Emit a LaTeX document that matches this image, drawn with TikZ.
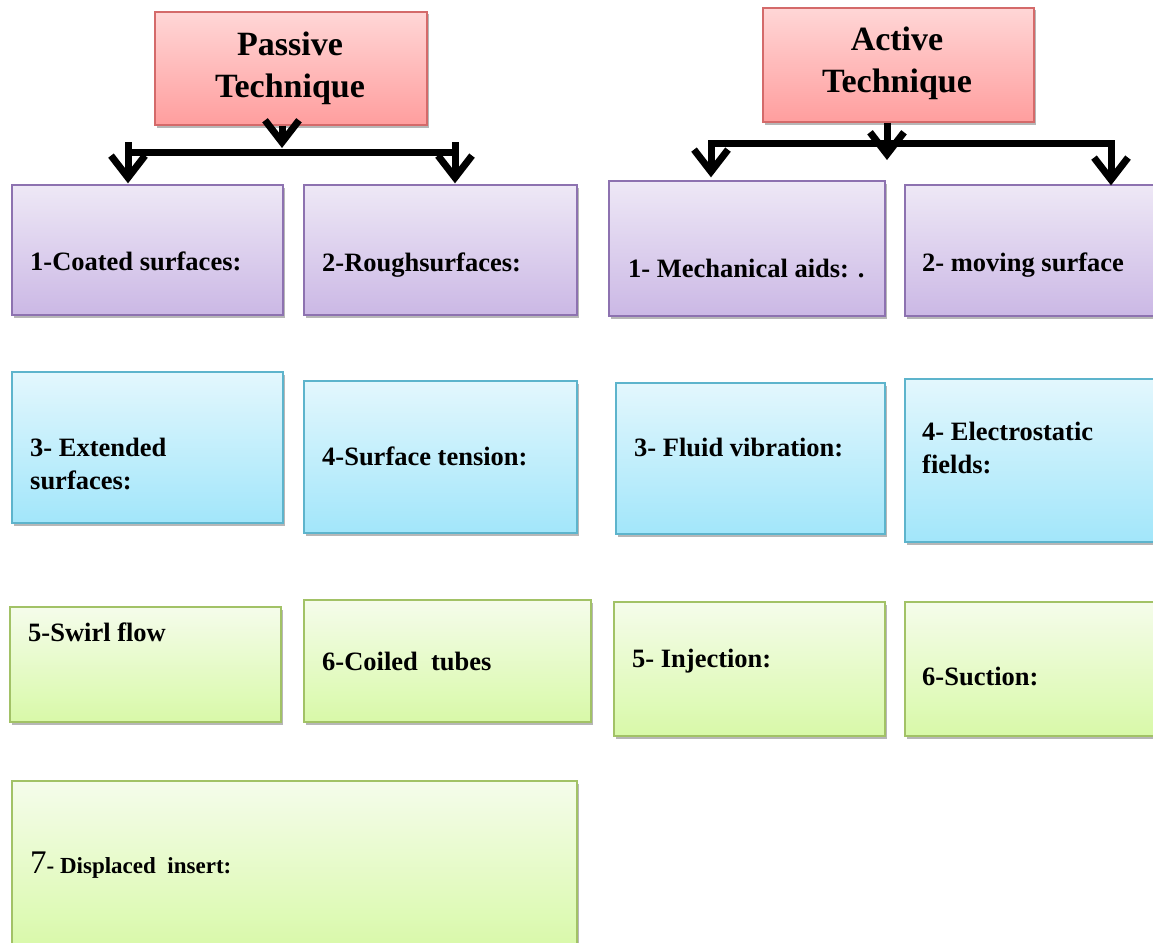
\documentclass[tikz,border=0pt]{standalone}
\usepackage{fontspec}
\setmainfont{Liberation Serif}
\usetikzlibrary{arrows.meta,shadows}
\definecolor{hdtop}{HTML}{FFD6D6}
\definecolor{hdbot}{HTML}{FF9E9E}
\definecolor{hdline}{HTML}{D46A6A}
\definecolor{putop}{HTML}{EEE8F6}
\definecolor{pubot}{HTML}{CBB8E5}
\definecolor{puline}{HTML}{8D72B0}
\definecolor{bltop}{HTML}{E3F7FD}
\definecolor{blbot}{HTML}{A2E6FA}
\definecolor{blline}{HTML}{5DB4CC}
\definecolor{grtop}{HTML}{F5FCEB}
\definecolor{grbot}{HTML}{D8F9A8}
\definecolor{grline}{HTML}{A2C266}
\newcommand{\mybox}[6]{\node[#1, minimum width={#5-#3}, minimum height={#6-#4}] (#2) at ({(#3+#5)/2},{(#4+#6)/2}) {};}
\tikzset{
  box/.style={draw, line width=1.3pt, inner sep=0pt,
    drop shadow={shadow xshift=1.5pt, shadow yshift=-2.5pt, opacity=0.4, fill=black!70}},
  hbox/.style={box, draw=hdline, top color=hdtop, bottom color=hdbot},
  pbox/.style={box, draw=puline, top color=putop, bottom color=pubot},
  bbox/.style={box, draw=blline, top color=bltop, bottom color=blbot},
  gbox/.style={box, draw=grline, top color=grtop, bottom color=grbot},
  htext/.style={inner sep=0pt, align=center, font=\bfseries\fontsize{34}{42}\selectfont},
  lbl/.style={anchor=base west, inner sep=0pt, align=left, font=\bfseries\fontsize{26.5}{32.5}\selectfont},
  link/.style={line width=7pt, line cap=rect},
  arr/.style={line width=7pt, -{Straight Barb[length=22pt,width=34pt]}},
}
\begin{document}
\begin{tikzpicture}[x=1pt,y=-1pt]
\useasboundingbox (0,0) rectangle (1153,942);
\clip (0,0) rectangle (1153,942);
% headers
\mybox{hbox}{ph}{155}{12}{427}{125}
\mybox{hbox}{ah}{763}{8}{1034}{122}
\node[htext] (pht) at (290,68) {Passive\\Technique};
\node[htext] (aht) at (897,63) {Active\\Technique};
% passive boxes
\mybox{pbox}{p1}{12}{185}{283}{315}
\mybox{pbox}{p2}{304}{185}{577}{315}
\mybox{bbox}{p3}{12}{372}{283}{523}
\mybox{bbox}{p4}{304}{381}{577}{533}
\mybox{gbox}{p5}{10}{607}{281}{722}
\mybox{gbox}{p6}{304}{600}{591}{722}
\mybox{gbox}{p7}{12}{781}{577}{952}
% active boxes
\mybox{pbox}{a1}{609}{181}{885}{316}
\mybox{pbox}{a2}{905}{185}{1165}{316}
\mybox{bbox}{a3}{616}{383}{885}{534}
\mybox{bbox}{a4}{905}{379}{1165}{542}
\mybox{gbox}{a5}{614}{602}{885}{736}
\mybox{gbox}{a6}{905}{602}{1165}{736}
% labels
\node[lbl] (t1) at (30,270) {1-Coated surfaces:};
\node[lbl] (t2) at (322,271) {2-Roughsurfaces:};
\node[lbl] (t3) at (30,489) {3- Extended\\surfaces:};
\node[lbl] (t4) at (322,465) {4-Surface tension:};
\node[lbl] (t5) at (28,641) {5-Swirl flow};
\node[lbl] (t6) at (322,670) {6-Coiled\ \ tubes};
\node[lbl, font=\bfseries\fontsize{23}{28}\selectfont] (t7) at (30,873) {{\mdseries\fontsize{33}{36}\selectfont 7}- Displaced\ \ insert:};
\node[lbl] (u1) at (628,277) {1- Mechanical aids: .};
\node[lbl] (u2) at (922,271) {2- moving surface};
\node[lbl] (u3) at (634,456) {3- Fluid vibration:};
\node[lbl] (u4) at (922,473) {4- Electrostatic\\fields:};
\node[lbl] (u5) at (632,667) {5- Injection:};
\node[lbl] (u6) at (922,685) {6-Suction:};
% passive connectors
\coordinate (pl) at (128,152);
\coordinate (pr) at (455,152);
\coordinate (pm) at (282,148);
\draw[link] (pl) -- (pr);
\draw[arr] ([yshift=10pt]pl) -- ([yshift=1pt]pl |- p1.north);
\draw[arr] ([yshift=10pt]pr) -- ([yshift=1pt]pr |- p2.north);
\draw[arr] (ph.south -| pm) -- (pm);
% active connectors
\coordinate (al) at (711,143);
\coordinate (ar) at (1111,143);
\coordinate (am) at (887,160);
\draw[link] (al) -- (ar);
\draw[arr] (al) -- ([yshift=3pt]al |- a1.north);
\draw[arr] (ar) -- ([yshift=-1pt]ar |- a2.north);
\draw[arr] (ah.south -| am) -- (am);
\end{tikzpicture}
\end{document}
